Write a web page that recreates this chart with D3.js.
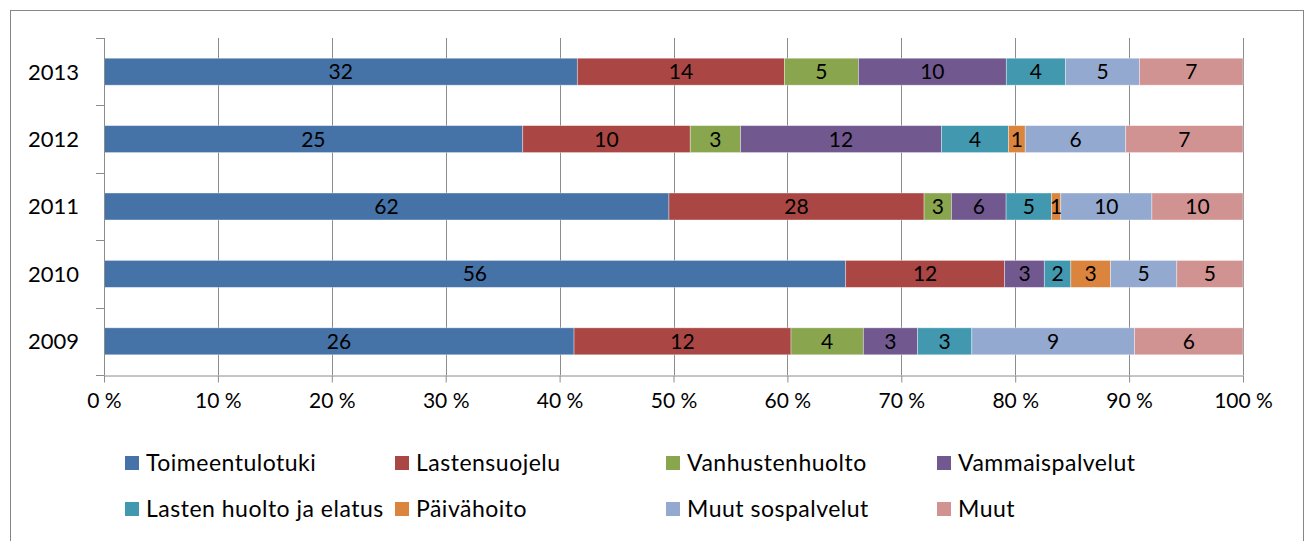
<!DOCTYPE html>
<meta charset="utf-8" />
<html>
<style>
  body { margin: 0; background: #fff; }
  text { font-family: "Lato", "Open Sans", sans-serif; fill: #000; }
  .grid line { stroke: #8c8c8c; stroke-width: 1px; }
  .axis path, .axis line { stroke: #8c8c8c; }
</style>
<body>
<svg width="1306" height="541"></svg>
<script src="https://cdn.jsdelivr.net/npm/d3@7"></script>
<script>
  // categories and series
  var years = ["2013", "2012", "2011", "2010", "2009"];
  var series = ["Toimeentulotuki", "Lastensuojelu", "Vanhustenhuolto", "Vammaispalvelut",
                "Lasten huolto ja elatus", "Päivähoito", "Muut sospalvelut", "Muut"];
  var colors = ["#4572A7", "#AA4643", "#89A54E", "#71588F", "#4198AF", "#DB843D", "#93A9CF", "#D19392"];

  // counts per year, in series order
  var toimeentulotuki = [32, 25, 62, 56, 26];
  var lastensuojelu   = [14, 10, 28, 12, 12];
  var vanhustenhuolto = [5, 3, 3, 0, 4];
  var vammaispalvelut = [10, 12, 6, 3, 3];
  var lastenHuolto    = [4, 4, 5, 2, 3];
  var paivahoito      = [0, 1, 1, 3, 0];
  var muutSos         = [5, 6, 10, 5, 9];
  var muut            = [7, 7, 10, 5, 6];
  var values = [toimeentulotuki, lastensuojelu, vanhustenhuolto, vammaispalvelut,
                lastenHuolto, paivahoito, muutSos, muut];

  var tickValues = d3.range(0, 11).map(function (d) { return d / 10; });

  var svg = d3.select("svg");

  // chart frame
  svg.append("rect")
    .attr("x", 10.5).attr("y", 10.5)
    .attr("width", 1293).attr("height", 545)
    .attr("fill", "none").attr("stroke", "#868686");

  var x = d3.scaleLinear().domain([0, 1]).range([104, 1243]);
  var y = d3.scaleBand().domain(years).range([38, 375])
    .paddingInner(0.6).paddingOuter(0.3);

  // vertical gridlines
  svg.append("g").attr("class", "grid")
    .selectAll("line")
    .data(tickValues.slice(1))
    .enter().append("line")
    .attr("x1", function (d) { return Math.round(x(d)) + 0.5; })
    .attr("x2", function (d) { return Math.round(x(d)) + 0.5; })
    .attr("y1", 38).attr("y2", 375);

  // build stacked rows (percent)
  var rows = years.map(function (yr, i) {
    var total = d3.sum(values, function (s) { return s[i]; });
    var acc = 0;
    return series.map(function (name, k) {
      var v = values[k][i];
      var seg = { year: yr, k: k, v: v, x0: acc / total, x1: (acc + v) / total };
      acc += v;
      return seg;
    });
  });
  var segs = [].concat.apply([], rows).filter(function (d) { return d.v > 0; });

  var bars = svg.append("g");
  bars.selectAll("rect")
    .data(segs)
    .enter().append("rect")
    .attr("x", function (d) { return x(d.x0); })
    .attr("width", function (d) { return x(d.x1) - x(d.x0); })
    .attr("y", function (d) { return y(d.year); })
    .attr("height", y.bandwidth())
    .attr("fill", function (d) { return colors[d.k]; })
    .attr("stroke", "#ffffff")
    .attr("stroke-opacity", 0.45)
    .attr("stroke-width", 0.8);

  // data labels
  bars.selectAll("text")
    .data(segs)
    .enter().append("text")
    .attr("x", function (d) { return (x(d.x0) + x(d.x1)) / 2; })
    .attr("y", function (d) { return y(d.year) + y.bandwidth() / 2; })
    .attr("dy", "0.36em")
    .attr("text-anchor", "middle")
    .attr("font-size", "21px")
    .text(function (d) { return d.v; });

  // x axis
  var xAxis = svg.append("g")
    .attr("class", "axis")
    .attr("transform", "translate(0,375.5)")
    .call(d3.axisBottom(x)
      .tickValues(tickValues)
      .tickSize(7)
      .tickSizeOuter(0)
      .tickPadding(11)
      .tickFormat(function (d) { return Math.round(d * 100) + " %"; }));
  xAxis.selectAll("text").attr("font-size", "21px").attr("font-family", null);

  // y axis: line with ticks at category boundaries
  var yAxis = svg.append("g").attr("class", "axis");
  yAxis.append("line")
    .attr("x1", 104.5).attr("x2", 104.5)
    .attr("y1", 38).attr("y2", 375);
  var step = y.step();
  yAxis.selectAll(".tk")
    .data(d3.range(0, years.length + 1))
    .enter().append("line")
    .attr("x1", 96).attr("x2", 104.5)
    .attr("y1", function (i) { return Math.round(38 + i * step) + 0.5; })
    .attr("y2", function (i) { return Math.round(38 + i * step) + 0.5; });
  yAxis.selectAll("text")
    .data(years)
    .enter().append("text")
    .attr("x", 79)
    .attr("y", function (d) { return y(d) + y.bandwidth() / 2; })
    .attr("dy", "0.36em")
    .attr("text-anchor", "end")
    .attr("font-size", "22px")
    .text(function (d) { return d; });

  // legend, 4 columns x 2 rows
  var legX = [125, 395, 666, 937];
  var legY = [463, 509];
  var leg = svg.append("g").selectAll("g")
    .data(series)
    .enter().append("g")
    .attr("transform", function (d, i) {
      return "translate(" + legX[i % 4] + "," + legY[Math.floor(i / 4)] + ")";
    });
  leg.append("rect")
    .attr("x", 0).attr("y", -7)
    .attr("width", 14).attr("height", 14)
    .attr("fill", function (d, i) { return colors[i]; });
  leg.append("text")
    .attr("x", 21)
    .attr("dy", "0.36em")
    .attr("font-size", "23px")
    .attr("letter-spacing", "0.5px")
    .text(function (d) { return d; });
</script>
</body>
</html>
